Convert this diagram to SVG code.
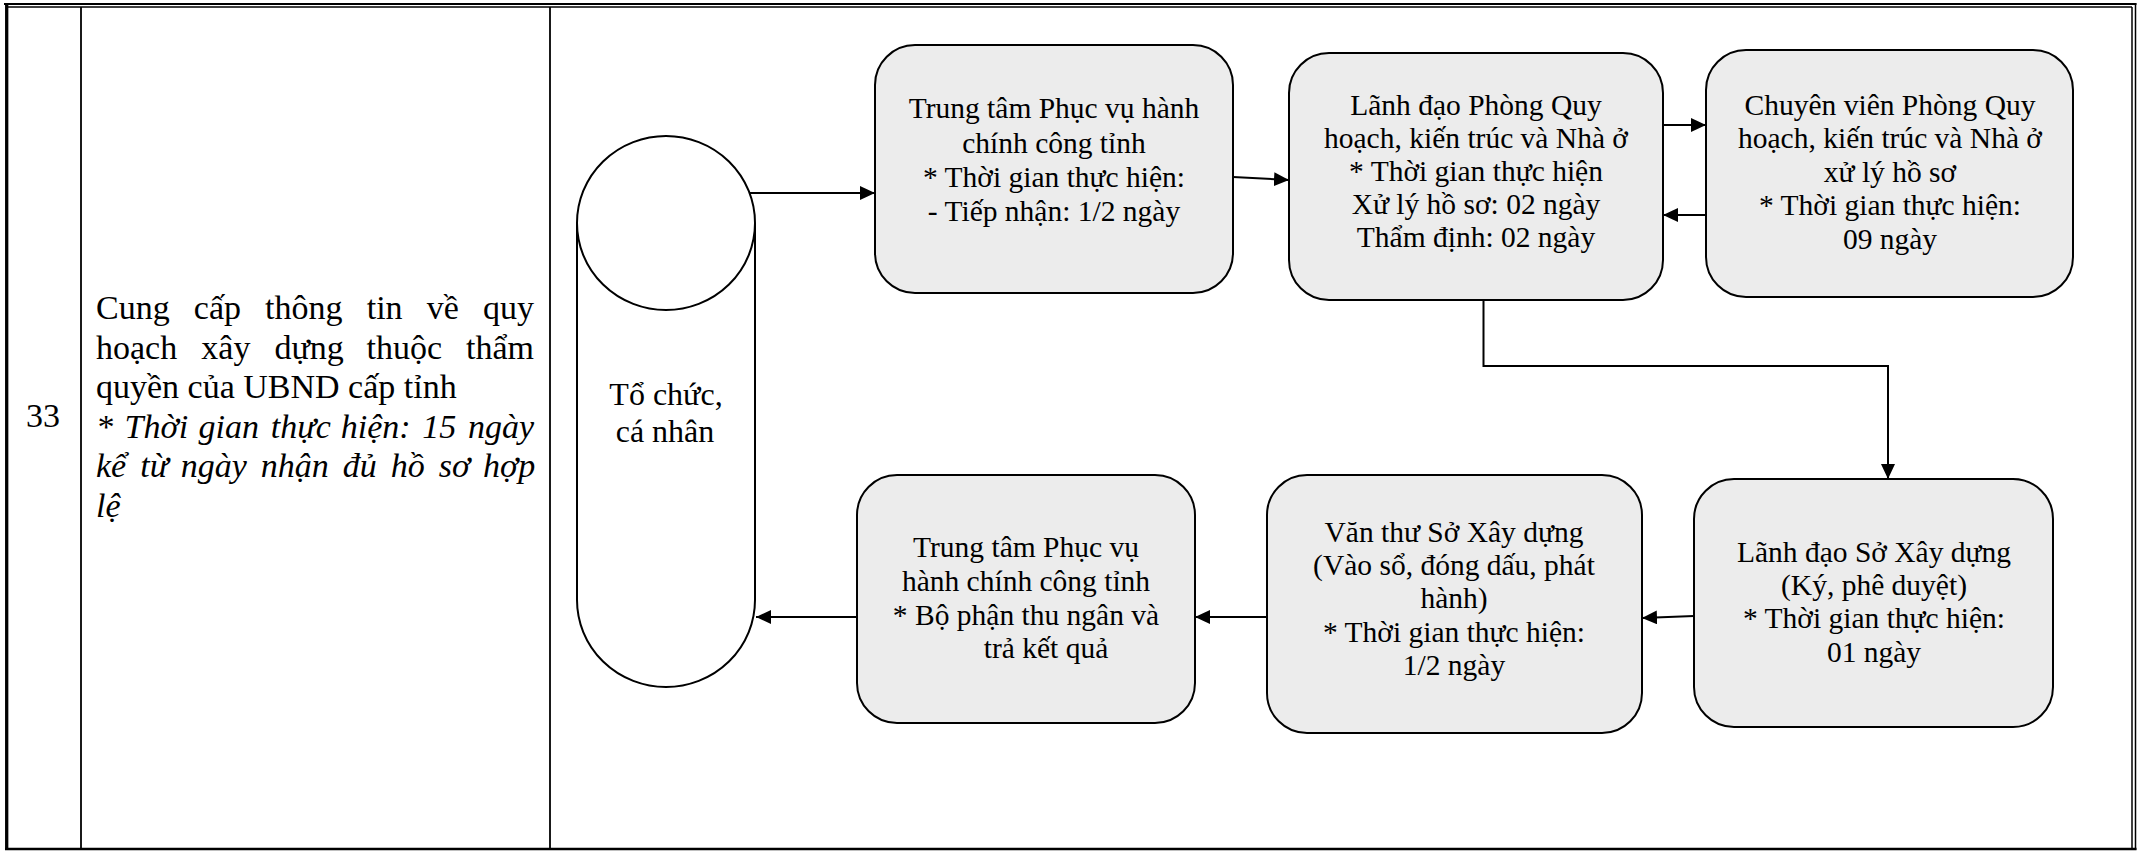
<svg xmlns="http://www.w3.org/2000/svg" width="2143" height="851" viewBox="0 0 2143 851">
<style>
.frame{stroke:#000;fill:none}
.box{fill:#ececec;stroke:#000;stroke-width:2}
.t{font-family:"Liberation Serif","Times New Roman",serif;font-size:29.5px;fill:#000;text-anchor:middle}
.lt{font-family:"Liberation Serif","Times New Roman",serif;font-size:34px;fill:#000}
.it{font-style:italic}
.conn{stroke:#000;stroke-width:2;fill:none;marker-end:url(#ah)}
</style>
<defs>
<marker id="ah" markerUnits="userSpaceOnUse" markerWidth="16" markerHeight="15" refX="15" refY="7" orient="auto">
<path d="M0,0 L15,7 L0,14 z" fill="#000"/>
</marker>
</defs>
<rect width="2143" height="851" fill="#fff"/>
<g id="table">
<line class="frame" x1="4" y1="4" x2="2136.5" y2="4" stroke-width="2"/>
<line class="frame" x1="7" y1="7" x2="2132" y2="7" stroke-width="1.3"/>
<line class="frame" x1="6.7" y1="3" x2="6.7" y2="850" stroke-width="3.3"/>
<line class="frame" x1="2135.5" y1="3" x2="2135.5" y2="850" stroke-width="1.5"/>
<line class="frame" x1="2132" y1="7" x2="2132" y2="848" stroke-width="1.5"/>
<line class="frame" x1="5" y1="849" x2="2136.5" y2="849" stroke-width="2.5"/>
<line class="frame" x1="81" y1="7" x2="81" y2="848" stroke-width="1.8"/>
<line class="frame" x1="550" y1="7" x2="550" y2="848" stroke-width="1.8"/>
<text class="lt" x="43" y="427" text-anchor="middle">33</text>
<text class="lt" y="319"><tspan x="96">Cung</tspan><tspan x="193.8">cấp</tspan><tspan x="265.1">thông</tspan><tspan x="366.7">tin</tspan><tspan x="426.7">về</tspan><tspan x="482.9">quy</tspan></text>
<text class="lt" y="358.5"><tspan x="96">hoạch</tspan><tspan x="201.3">xây</tspan><tspan x="274.4">dựng</tspan><tspan x="366.5">thuộc</tspan><tspan x="466">thẩm</tspan></text>
<text class="lt" x="96" y="398">quyền của UBND cấp tỉnh</text>
<text class="lt it" y="437.5"><tspan x="96">*</tspan><tspan x="124.6">Thời</tspan><tspan x="198.6">gian</tspan><tspan x="270.7">thực</tspan><tspan x="340.8">hiện:</tspan><tspan x="422.3">15</tspan><tspan x="467.9">ngày</tspan></text>
<text class="lt it" y="477"><tspan x="96">kể</tspan><tspan x="140.2">từ</tspan><tspan x="180.7">ngày</tspan><tspan x="260.8">nhận</tspan><tspan x="342.8">đủ</tspan><tspan x="390.8">hồ</tspan><tspan x="438.8">sơ</tspan><tspan x="483">hợp</tspan></text>
<text class="lt it" x="96" y="516.5">lệ</text>
</g>
<g id="connectors">
<line class="conn" x1="750" y1="193" x2="875" y2="193"/>
<line class="conn" x1="1233" y1="177" x2="1289" y2="180"/>
<line class="conn" x1="1663" y1="125" x2="1706" y2="125"/>
<line class="conn" x1="1706" y1="215" x2="1663" y2="215"/>
<polyline class="conn" points="1483.5,300 1483.5,366 1888,366 1888,479"/>
<line class="conn" x1="1694" y1="616" x2="1642" y2="618"/>
<line class="conn" x1="1267" y1="617" x2="1195" y2="617"/>
<line class="conn" x1="857" y1="617" x2="756" y2="617"/>
</g>
<g id="to-chuc-ca-nhan">
<path d="M577,223 L577,600 A89,87 0 0 0 755,600 L755,223" fill="#fff" stroke="#000" stroke-width="2"/>
<ellipse cx="666" cy="223" rx="89" ry="87" fill="#fff" stroke="#000" stroke-width="2"/>
<text class="t" x="666" y="405" style="font-size:32px">Tổ chức,</text>
<text class="t" x="665" y="442" style="font-size:32px">cá nhân</text>
</g>
<g id="trung-tam-tiep-nhan">
<rect class="box" x="875" y="45" width="358" height="248" rx="40"/>
<text class="t" x="1054" y="118">Trung tâm Phục vụ hành</text>
<text class="t" x="1054" y="153">chính công tỉnh</text>
<text class="t" x="1054" y="187">* Thời gian thực hiện:</text>
<text class="t" x="1054" y="221">- Tiếp nhận: 1/2 ngày</text>
</g>
<g id="lanh-dao-phong">
<rect class="box" x="1289" y="53" width="374" height="247" rx="40"/>
<text class="t" x="1476" y="115">Lãnh đạo Phòng Quy</text>
<text class="t" x="1476" y="148">hoạch, kiến trúc và Nhà ở</text>
<text class="t" x="1476" y="181">* Thời gian thực hiện</text>
<text class="t" x="1476" y="214">Xử lý hồ sơ: 02 ngày</text>
<text class="t" x="1476" y="247">Thẩm định: 02 ngày</text>
</g>
<g id="chuyen-vien">
<rect class="box" x="1706" y="50" width="367" height="247" rx="40"/>
<text class="t" x="1890" y="115">Chuyên viên Phòng Quy</text>
<text class="t" x="1890" y="148">hoạch, kiến trúc và Nhà ở</text>
<text class="t" x="1890" y="182">xử lý hồ sơ</text>
<text class="t" x="1890" y="215">* Thời gian thực hiện:</text>
<text class="t" x="1890" y="249">09 ngày</text>
</g>
<g id="lanh-dao-so">
<rect class="box" x="1694" y="479" width="359" height="248" rx="40"/>
<text class="t" x="1874" y="562">Lãnh đạo Sở Xây dựng</text>
<text class="t" x="1874" y="595">(Ký, phê duyệt)</text>
<text class="t" x="1874" y="628">* Thời gian thực hiện:</text>
<text class="t" x="1874" y="662">01 ngày</text>
</g>
<g id="van-thu">
<rect class="box" x="1267" y="475" width="375" height="258" rx="40"/>
<text class="t" x="1454" y="542">Văn thư Sở Xây dựng</text>
<text class="t" x="1454" y="575">(Vào sổ, đóng dấu, phát</text>
<text class="t" x="1454" y="608">hành)</text>
<text class="t" x="1454" y="642">* Thời gian thực hiện:</text>
<text class="t" x="1454" y="675">1/2 ngày</text>
</g>
<g id="trung-tam-tra-ket-qua">
<rect class="box" x="857" y="475" width="338" height="248" rx="40"/>
<text class="t" x="1026" y="557">Trung tâm Phục vụ</text>
<text class="t" x="1026" y="591">hành chính công tỉnh</text>
<text class="t" x="1026" y="625">* Bộ phận thu ngân và</text>
<text class="t" x="1046" y="658">trả kết quả</text>
</g>
</svg>
